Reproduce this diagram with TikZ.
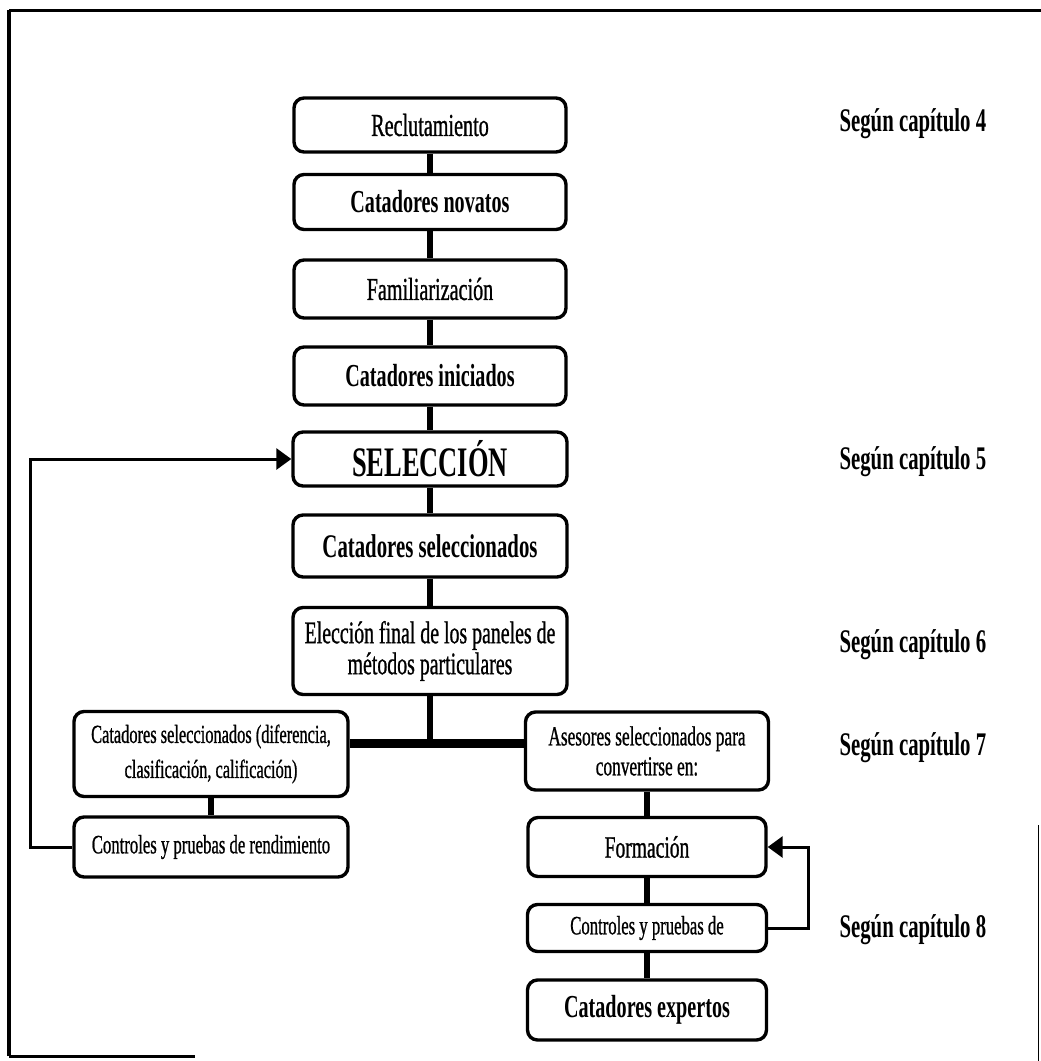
\documentclass[tikz,border=0pt]{standalone}
\usepackage{fontspec}
\setmainfont{Liberation Serif}[FakeStretch=0.63, UprightFeatures={FakeBold=0.8}]
\usetikzlibrary{arrows.meta}
\newcommand{\fs}[2]{\fontsize{#1}{#2}\selectfont}
\begin{document}
\begin{tikzpicture}[x=1pt,y=-1pt,
  box/.style={draw, line width=3.4pt, rounded corners=10pt, inner sep=0pt,
              align=center, fill=white},
  link/.style={line width=6pt},
  bar/.style={line width=9pt},
  back/.style={line width=3pt, -{Triangle[length=15pt,width=21pt]}},
  chap/.style={anchor=west, font=\bfseries\fs{33}{33}}]
\useasboundingbox (0,0) rectangle (1041,1061);

% page frame
\draw[line width=4.5pt] (9,1056) -- (9,10);
\draw[line width=3pt] (9,10) -- (1041,10);
\draw[line width=3pt] (9,1056) -- (195,1056);
\draw[line width=1pt] (1038,825) -- (1038,1061);

% main column
\node[box, minimum width=272, minimum height=54, font=\fs{32}{32}] (rec) at (430,125) {Reclutamiento};
\node[box, minimum width=272, minimum height=55, font=\bfseries\fs{32}{32}] (nov) at (430,202) {Catadores novatos};
\node[box, minimum width=272, minimum height=58, font=\fs{32}{32}] (fam) at (430,289) {Familiarización};
\node[box, minimum width=272, minimum height=58, font=\bfseries\fs{32}{32}] (ini) at (430,376) {Catadores iniciados};
\node[box, minimum width=274, minimum height=54, font=\bfseries\fs{42}{42}] (sel) at (430,459) {SELECCIÓN};
\node[box, minimum width=274, minimum height=62, font=\bfseries\fs{33}{33}] (csel) at (430,546) {Catadores seleccionados};
\node[box, minimum width=274, minimum height=87, font=\fs{31.5}{31}] (elec) at (430,651)
  {Elección final de los paneles de\\ métodos particulares};

% left branch
\node[box, minimum width=274, minimum height=85, font=\fs{26}{35}] (left1) at (211,754)
  {Catadores seleccionados (diferencia,\\ clasificación, calificación)};
\node[box, minimum width=274, minimum height=60, font=\fs{26.5}{28}] (left2) at (211,847) {Controles y pruebas de rendimiento};

% right branch
\node[box, minimum width=243, minimum height=78, font=\fs{27.5}{30}] (ase) at (647,751)
  {Asesores seleccionados para\\ convertirse en:};
\node[box, minimum width=238, minimum height=59, font=\fs{31}{31}] (form) at (647,847) {Formación};
\node[box, minimum width=239, minimum height=47, font=\fs{26.5}{26}] (ctrl) at (647,928) {Controles y pruebas de};
\node[box, minimum width=239, minimum height=60, font=\bfseries\fs{32}{32}] (exp) at (647,1010) {Catadores expertos};

% chapter references
\node[chap] (c4) at (836,124) {Según capítulo 4};
\node[chap] (c5) at (836,462) {Según capítulo 5};
\node[chap] (c6) at (836,645) {Según capítulo 6};
\node[chap] (c7) at (836,748) {Según capítulo 7};
\node[chap] (c8) at (836,930) {Según capítulo 8};

% vertical links
\draw[link] (rec) -- (nov);
\draw[link] (nov) -- (fam);
\draw[link] (fam) -- (ini);
\draw[link] (ini) -- (sel);
\draw[link] (sel) -- (csel);
\draw[link] (csel) -- (elec);
\coordinate (split) at (430,743);
\draw[link] (elec.south) -- (split);
\draw[bar] (left1.east |- split) -- (ase.west |- split);
\draw[link] (left1) -- (left2);
\draw[link] (ase) -- (form);
\draw[link] (form) -- (ctrl);
\draw[link] (ctrl) -- (exp);

% feedback loops
\draw[back] (left2.west) -- ++(-42,0) |- (sel.west);
\draw[back] (ctrl.east) -- ++(40,0) |- (form.east);
\end{tikzpicture}
\end{document}
